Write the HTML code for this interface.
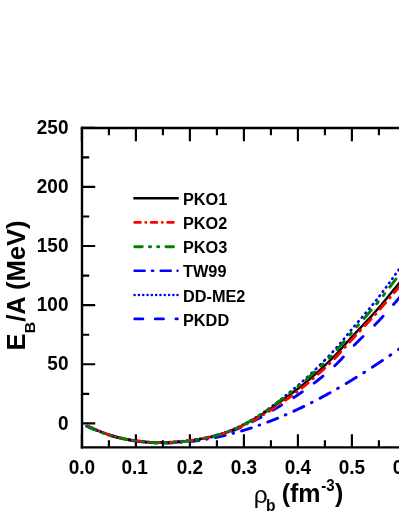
<!DOCTYPE html>
<html><head><meta charset="utf-8"><title>EOS</title>
<style>
html,body{margin:0;padding:0;background:#fff;}
body{width:399px;height:516px;overflow:hidden;font-family:"Liberation Sans",sans-serif;}
svg{display:block;}
text{font-family:"Liberation Sans",sans-serif;font-weight:bold;fill:#000;}
.tl text{font-size:19px;}
.lg text{font-size:16.3px;}
.c{fill:none;stroke-linecap:round;stroke-linejoin:round;stroke-width:2.9;}
.pko1{stroke:#000;stroke-width:2.4;stroke-linecap:butt;}
.pko2{stroke:#ff0000;}
.pko3{stroke:#008000;}
.tw99{stroke:#0000ff;}
.ddme2{stroke:#0000ff;stroke-width:2.6;}
.pkdd{stroke:#0000ff;}
</style></head><body>
<svg width="399" height="516" viewBox="0 0 399 516">
<defs><filter id="gs" x="0" y="0" width="399" height="516" filterUnits="userSpaceOnUse" color-interpolation-filters="sRGB"><feOffset dx="0" dy="0"/></filter></defs>
<rect width="399" height="516" fill="#fff"/>
<path d="M80.8,128.0 H405 M80.8,447.35 H405" fill="none" stroke="#000" stroke-width="2.3"/>
<path d="M82.0,126.85 V448.5" fill="none" stroke="#000" stroke-width="2.4"/>
<path d="M81.90,447.35 v-13.2 M81.90,128.0 v13.2 M108.90,447.35 v-7.2 M108.90,128.0 v7.2 M135.90,447.35 v-13.2 M135.90,128.0 v13.2 M162.90,447.35 v-7.2 M162.90,128.0 v7.2 M189.90,447.35 v-13.2 M189.90,128.0 v13.2 M216.90,447.35 v-7.2 M216.90,128.0 v7.2 M243.90,447.35 v-13.2 M243.90,128.0 v13.2 M270.90,447.35 v-7.2 M270.90,128.0 v7.2 M297.90,447.35 v-13.2 M297.90,128.0 v13.2 M324.90,447.35 v-7.2 M324.90,128.0 v7.2 M351.90,447.35 v-13.2 M351.90,128.0 v13.2 M378.90,447.35 v-7.2 M378.90,128.0 v7.2 M82.0,423.40 h13.2 M82.0,393.84 h7.2 M82.0,364.28 h13.2 M82.0,334.72 h7.2 M82.0,305.16 h13.2 M82.0,275.60 h7.2 M82.0,246.04 h13.2 M82.0,216.48 h7.2 M82.0,186.92 h13.2 M82.0,157.36 h7.2 M82.0,127.80 h13.2" fill="none" stroke="#000" stroke-width="2.15"/>
<g class="curves">
<path class="c tw99" d="M86.60,426.21 86.70,426.26 87.20,426.49 87.70,426.72 88.20,426.94 88.70,427.17 89.20,427.39 89.70,427.61 90.20,427.83 90.70,428.05 91.20,428.26 91.70,428.48 92.20,428.69 92.70,428.90 93.20,429.11 93.70,429.31 94.20,429.52 94.36,429.58M102.06,432.52 102.10,432.54 102.60,432.71 102.63,432.72M110.67,435.34 110.70,435.35 111.20,435.50 111.70,435.64 112.20,435.79 112.70,435.93 113.20,436.08 113.70,436.22 114.20,436.36 114.70,436.49 115.20,436.63 115.70,436.76 116.20,436.90 116.70,437.03 117.20,437.16 117.70,437.29 118.20,437.41 118.70,437.54 119.20,437.66 119.70,437.79 120.20,437.91 120.47,437.97M128.30,439.65 128.40,439.67 128.75,439.74M136.89,441.09 136.90,441.09 137.40,441.16 137.90,441.23 138.40,441.30 138.90,441.36 139.40,441.43 139.90,441.49 140.40,441.55 140.90,441.61 141.40,441.67 141.90,441.73 142.40,441.79 142.90,441.84 143.40,441.90 143.90,441.95 144.40,442.00 144.90,442.05 145.40,442.10 145.90,442.15 146.40,442.20 146.62,442.21M154.51,442.76 154.60,442.77 154.91,442.78M163.09,443.00 163.10,443.00 163.60,443.00 164.10,443.01 164.60,443.01 165.10,443.01 165.60,443.00 166.10,443.00 166.60,443.00 167.10,442.99 167.60,442.99 168.10,442.98 168.60,442.97 169.10,442.96 169.60,442.95 170.10,442.94 170.60,442.92 171.10,442.91 171.60,442.89 172.10,442.87 172.60,442.86 172.79,442.85M180.69,442.41 180.70,442.41 181.09,442.38M189.26,441.64 189.30,441.64 189.80,441.58 190.30,441.53 190.80,441.47 191.30,441.41 191.80,441.36 192.30,441.30 192.80,441.24 193.30,441.18 193.80,441.11 194.30,441.05 194.80,440.99 195.30,440.92 195.80,440.86 196.30,440.79 196.80,440.72 197.30,440.65 197.80,440.58 198.30,440.51 198.80,440.44 198.99,440.41M206.85,439.16 206.90,439.15 207.29,439.08M215.42,437.53 215.50,437.52 216.00,437.41 216.50,437.31 217.00,437.21 217.50,437.10 218.00,436.99 218.50,436.88 219.00,436.78 219.50,436.67 220.00,436.56 220.50,436.44 221.00,436.33 221.50,436.22 222.00,436.11 222.50,435.99 223.00,435.88 223.50,435.76 224.00,435.64 224.50,435.52 225.00,435.40 225.19,435.36M233.00,433.38 233.10,433.35 233.50,433.24M241.57,430.96 241.60,430.95 242.10,430.81 242.60,430.66 243.10,430.51 243.60,430.36 244.10,430.20 244.60,430.05 245.10,429.90 245.60,429.74 246.10,429.59 246.60,429.43 247.10,429.27 247.60,429.12 248.10,428.96 248.60,428.80 249.10,428.64 249.60,428.48 250.10,428.32 250.60,428.15 251.10,427.99 251.40,427.89M259.15,425.25 259.20,425.23 259.70,425.05 259.71,425.05M267.72,422.10 267.80,422.07 268.30,421.88 268.80,421.69 269.30,421.50 269.80,421.30 270.30,421.11 270.80,420.92 271.30,420.72 271.80,420.52 272.30,420.33 272.80,420.13 273.30,419.93 273.80,419.73 274.30,419.53 274.80,419.33 275.30,419.13 275.80,418.93 276.30,418.72 276.80,418.52 277.30,418.32 277.62,418.18M285.29,414.95 285.30,414.94 285.80,414.73 285.93,414.67M293.86,411.13 293.90,411.11 294.40,410.88 294.90,410.65 295.40,410.42 295.90,410.19 296.40,409.95 296.90,409.72 297.40,409.49 297.90,409.25 298.40,409.02 298.90,408.78 299.40,408.54 299.90,408.31 300.40,408.07 300.90,407.83 301.40,407.59 301.90,407.35 302.40,407.11 302.90,406.87 303.40,406.63 303.84,406.41M311.43,402.64 311.50,402.61 312.00,402.35 312.15,402.28M320.00,398.20 320.10,398.15 320.60,397.89 321.10,397.62 321.60,397.35 322.10,397.09 322.60,396.82 323.10,396.55 323.60,396.28 324.10,396.01 324.60,395.74 325.10,395.47 325.60,395.20 326.10,394.93 326.60,394.65 327.10,394.38 327.60,394.11 328.10,393.83 328.60,393.56 329.10,393.28 329.60,393.00 330.05,392.75M337.58,388.51 337.60,388.49 338.10,388.21 338.36,388.05M346.15,383.50 346.20,383.47 346.70,383.17 347.20,382.88 347.70,382.58 348.20,382.28 348.70,381.98 349.20,381.68 349.70,381.38 350.20,381.08 350.70,380.77 351.20,380.47 351.70,380.17 352.20,379.86 352.70,379.56 353.20,379.26 353.70,378.95 354.20,378.64 354.70,378.34 355.20,378.03 355.70,377.72 356.20,377.41 356.27,377.37M363.73,372.71 363.80,372.66 364.30,372.34 364.58,372.17M372.30,367.20 372.30,367.19 372.80,366.87 373.30,366.54 373.80,366.21 374.30,365.89 374.80,365.56 375.30,365.23 375.80,364.90 376.30,364.57 376.80,364.24 377.30,363.91 377.80,363.58 378.30,363.24 378.80,362.91 379.30,362.58 379.80,362.24 380.30,361.91 380.80,361.58 381.30,361.24 381.80,360.91 382.30,360.57 382.48,360.45M389.88,355.42 389.90,355.40 390.40,355.06 390.79,354.79M398.45,349.46 398.50,349.42 399.00,349.07 399.50,348.71 400.00,348.36 400.50,348.01 401.00,347.65 401.50,347.30 402.00,346.94 402.50,346.59 403.00,346.23 403.50,345.88 404.00,345.52 404.50,345.16 404.72,345.01"/>
<path class="c ddme2" d="M87.78,426.04 87.80,426.05 88.02,426.15M92.09,427.99 92.10,427.99 92.32,428.09M96.40,429.87 96.50,429.91 96.62,429.96M100.72,431.66 100.80,431.69 100.91,431.74M105.04,433.32 105.10,433.34 105.20,433.38M109.36,434.81 109.40,434.82 109.49,434.85M113.68,436.11 113.70,436.12 113.78,436.14M118.00,437.25 118.00,437.25 118.07,437.27M122.31,438.26 122.37,438.27M126.62,439.15 126.67,439.16M130.93,439.94 130.97,439.95M135.24,440.61 135.27,440.62M139.55,441.17 139.57,441.17M143.86,441.61 143.87,441.62M148.17,441.95 148.18,441.95M152.47,442.19 152.48,442.19M156.78,442.33 156.78,442.33M161.08,442.37 161.09,442.37M165.39,442.30 165.39,442.30M169.69,442.13 169.70,442.13M174.00,441.88 174.00,441.88 174.01,441.88M178.30,441.55 178.31,441.55M182.60,441.16 182.62,441.16M186.91,440.70 186.93,440.70M191.21,440.15 191.24,440.15M195.51,439.52 195.54,439.52M199.81,438.80 199.85,438.79M204.11,437.97 204.17,437.96M208.41,437.04 208.48,437.03M212.71,436.01 212.79,435.99M217.00,434.87 217.10,434.84 217.10,434.84M221.30,433.61 221.30,433.61 221.42,433.57M225.59,432.20 225.60,432.20 225.74,432.15M229.88,430.62 229.90,430.62 230.06,430.55M234.16,428.85 234.20,428.83 234.39,428.75M238.45,426.89 238.50,426.86 238.71,426.76M242.74,424.77 242.80,424.73 243.03,424.62M247.03,422.51 247.10,422.47 247.35,422.34M251.32,420.13 251.40,420.08 251.67,419.92M255.61,417.58 255.70,417.52 255.99,417.34M259.89,414.87 259.90,414.86 260.32,414.59M264.18,411.98 264.20,411.97 264.64,411.66M268.46,408.94 268.50,408.91 268.96,408.58M272.75,405.76 272.80,405.72 273.29,405.35M277.04,402.43 277.10,402.38 277.60,401.99 277.60,401.99M281.34,399.02 281.40,398.97 281.90,398.57 281.91,398.56M285.64,395.58 285.70,395.53 286.20,395.13 286.22,395.11M289.94,392.10 290.00,392.05 290.50,391.64 290.53,391.61M294.24,388.54 294.30,388.49 294.80,388.07 294.85,388.03M298.53,384.90 298.60,384.84 299.10,384.41 299.17,384.35M302.82,381.14 302.90,381.07 303.40,380.62 303.49,380.55M307.11,377.26 307.20,377.18 307.70,376.72 307.80,376.63M311.41,373.27 311.50,373.18 312.00,372.71 312.12,372.60M315.70,369.18 315.80,369.08 316.30,368.60 316.43,368.47M320.00,365.00 320.00,364.99 320.50,364.50 320.75,364.25M324.29,360.72 324.30,360.71 324.80,360.20 325.03,359.97M328.50,356.40 328.50,356.39 329.00,355.87 329.18,355.68M332.55,352.08 332.60,352.02 333.10,351.48 333.18,351.39M336.44,347.75 336.50,347.69 337.00,347.12 337.01,347.10M340.17,343.43 340.20,343.39 340.68,342.82M343.74,339.11 343.80,339.03 344.21,338.52M347.24,334.80 347.30,334.72 347.72,334.21M350.79,330.51 350.80,330.50 351.30,329.90 351.30,329.90M354.41,326.21 354.50,326.11 354.94,325.59M358.08,321.91 358.10,321.88 358.60,321.30 358.61,321.28M361.76,317.60 361.80,317.56 362.30,316.98M365.43,313.30 365.50,313.21 365.96,312.68M369.06,308.98 369.10,308.94 369.57,308.38M372.63,304.67 372.70,304.58 373.11,304.08M376.10,300.35 376.20,300.23 376.55,299.79M379.47,296.04 379.50,295.99 379.88,295.50M382.74,291.72 382.80,291.64 383.13,291.20M385.94,287.41 386.00,287.32 386.31,286.90M389.09,283.10 389.10,283.09 389.45,282.60M392.21,278.79 392.30,278.67 392.57,278.30M395.32,274.49 395.40,274.38 395.68,273.99M398.43,270.18 398.50,270.09 398.79,269.69M401.56,265.88 401.60,265.83 401.93,265.38M404.71,261.58 404.80,261.46 405.09,261.07"/>
<path class="c pkdd" d="M87.92,426.40 88.00,426.44 88.50,426.67 89.00,426.90 89.50,427.12 90.00,427.35 90.50,427.57 91.00,427.80 91.50,428.02 92.00,428.25 92.50,428.47 93.00,428.69 93.50,428.91 94.00,429.13 94.50,429.35 95.00,429.57 95.50,429.79 96.00,430.00 96.26,430.11M108.56,434.87 108.60,434.88 109.10,435.04 109.60,435.21 110.10,435.37 110.60,435.52 111.10,435.68 111.60,435.83 112.10,435.98 112.60,436.13 113.10,436.27 113.60,436.41 114.10,436.55 114.60,436.69 115.10,436.83 115.60,436.96 116.10,437.10 116.60,437.23 116.78,437.27M129.20,439.99 129.30,440.00 129.80,440.09 130.30,440.18 130.80,440.27 131.30,440.35 131.80,440.44 132.30,440.52 132.80,440.60 133.30,440.68 133.80,440.76 134.30,440.83 134.80,440.91 135.30,440.98 135.80,441.05 136.30,441.12 136.80,441.19 137.30,441.26 137.33,441.26M149.81,442.45 149.90,442.46 150.40,442.49 150.90,442.52 151.40,442.54 151.90,442.57 152.40,442.59 152.90,442.62 153.40,442.64 153.90,442.66 154.40,442.68 154.90,442.70 155.40,442.71 155.90,442.73 156.40,442.74 156.90,442.75 157.40,442.76 157.90,442.77 157.91,442.77M170.40,442.56 170.50,442.56 171.00,442.53 171.50,442.51 172.00,442.48 172.50,442.45 173.00,442.42 173.50,442.39 174.00,442.36 174.50,442.33 175.00,442.29 175.50,442.26 176.00,442.22 176.50,442.19 177.00,442.15 177.50,442.11 178.00,442.08 178.50,442.04 178.50,442.04M190.98,440.74 191.00,440.74 191.50,440.67 192.00,440.60 192.50,440.54 193.00,440.47 193.50,440.40 194.00,440.32 194.50,440.25 195.00,440.18 195.50,440.10 196.00,440.02 196.50,439.94 197.00,439.87 197.50,439.78 198.00,439.70 198.50,439.62 199.00,439.53 199.11,439.52M211.55,437.03 211.60,437.02 212.10,436.91 212.60,436.79 213.10,436.67 213.60,436.56 214.10,436.44 214.60,436.31 215.10,436.19 215.60,436.07 216.10,435.94 216.60,435.82 217.10,435.69 217.60,435.56 218.10,435.43 218.60,435.30 219.10,435.17 219.60,435.03 219.73,435.00M232.08,431.05 232.10,431.04 232.60,430.85 233.10,430.66 233.60,430.46 234.10,430.26 234.60,430.06 235.10,429.86 235.60,429.66 236.10,429.45 236.60,429.24 237.10,429.03 237.60,428.82 238.10,428.60 238.60,428.38 239.10,428.17 239.60,427.95 240.10,427.72 240.40,427.59M252.60,421.64 252.70,421.59 253.20,421.33 253.70,421.07 254.20,420.81 254.70,420.55 255.20,420.29 255.70,420.03 256.20,419.77 256.70,419.51 257.20,419.24 257.70,418.98 258.20,418.71 258.70,418.44 259.20,418.18 259.70,417.91 260.20,417.64 260.70,417.36 261.04,417.18M273.14,410.12 273.20,410.08 273.70,409.78 274.20,409.48 274.70,409.18 275.20,408.88 275.70,408.57 276.20,408.27 276.70,407.97 277.20,407.67 277.70,407.37 278.20,407.07 278.70,406.77 279.20,406.47 279.70,406.17 280.20,405.87 280.70,405.57 281.20,405.27 281.65,405.00M293.71,397.62 293.80,397.56 294.30,397.24 294.80,396.91 295.30,396.58 295.80,396.25 296.30,395.92 296.80,395.59 297.30,395.25 297.80,394.92 298.30,394.58 298.80,394.24 299.30,393.90 299.80,393.56 300.30,393.22 300.80,392.87 301.30,392.53 301.80,392.18 302.30,391.83M314.23,383.07 314.30,383.02 314.80,382.63 315.30,382.25 315.80,381.86 316.30,381.47 316.80,381.08 317.30,380.69 317.80,380.29 318.30,379.90 318.80,379.50 319.30,379.10 319.80,378.70 320.30,378.30 320.80,377.90 321.30,377.50 321.80,377.09 322.30,376.69 322.80,376.28 322.96,376.15M334.72,365.79 334.80,365.71 335.30,365.23 335.80,364.75 336.30,364.26 336.80,363.77 337.30,363.28 337.80,362.78 338.30,362.28 338.80,361.77 339.30,361.26 339.80,360.74 340.30,360.23 340.80,359.70 341.30,359.17 341.80,358.64 342.30,358.10 342.80,357.56 343.30,357.01 343.32,356.99M354.18,345.28 354.20,345.25 354.70,344.74 355.20,344.22 355.70,343.71 356.20,343.21 356.70,342.70 357.20,342.20 357.70,341.70 358.20,341.20 358.70,340.70 359.20,340.21 359.70,339.72 360.20,339.23 360.70,338.74 361.20,338.25 361.70,337.77 362.20,337.28 362.70,336.80 363.02,336.48M374.68,325.11 374.70,325.09 375.20,324.58 375.70,324.07 376.20,323.56 376.70,323.04 377.20,322.53 377.70,322.00 378.20,321.48 378.70,320.95 379.20,320.41 379.70,319.88 380.20,319.34 380.70,318.80 381.20,318.26 381.70,317.71 382.20,317.16 382.70,316.62 383.06,316.22M393.51,304.46 393.60,304.35 394.10,303.78 394.60,303.21 395.10,302.64 395.60,302.07 396.10,301.50 396.60,300.93 397.10,300.36 397.60,299.79 398.10,299.22 398.60,298.65 399.10,298.09 399.60,297.52 400.10,296.95 400.60,296.39 401.10,295.82 401.26,295.64"/>
<path class="c pko1" d="M86.6,425.70 L87.6,426.16 L88.6,426.61 L89.6,427.07 L90.6,427.52 L91.6,427.97 L92.6,428.41 L93.6,428.86 L94.6,429.29 L95.6,429.73 L96.6,430.16 L97.6,430.58 L98.6,431.00 L99.6,431.41 L100.6,431.82 L101.6,432.21 L102.6,432.60 L103.6,432.99 L104.6,433.36 L105.6,433.73 L106.6,434.08 L107.6,434.43 L108.6,434.77 L109.6,435.09 L110.6,435.41 L111.6,435.72 L112.6,436.01 L113.6,436.30 L114.6,436.58 L115.6,436.85 L116.6,437.11 L117.6,437.36 L118.6,437.61 L119.6,437.85 L120.6,438.08 L121.6,438.31 L122.6,438.53 L123.6,438.75 L124.6,438.96 L125.6,439.16 L126.6,439.36 L127.6,439.56 L128.6,439.74 L129.6,439.93 L130.6,440.10 L131.6,440.27 L132.6,440.43 L133.6,440.59 L134.6,440.74 L135.6,440.89 L136.6,441.02 L137.6,441.16 L138.6,441.28 L139.6,441.40 L140.6,441.51 L141.6,441.62 L142.6,441.72 L143.6,441.82 L144.6,441.91 L145.6,441.99 L146.6,442.07 L147.6,442.15 L148.6,442.21 L149.6,442.28 L150.6,442.33 L151.6,442.39 L152.6,442.43 L153.6,442.48 L154.6,442.51 L155.6,442.54 L156.6,442.57 L157.6,442.59 L158.6,442.60 L159.6,442.61 L160.6,442.62 L161.6,442.61 L162.6,442.60 L163.6,442.59 L164.6,442.57 L165.6,442.55 L166.6,442.52 L167.6,442.48 L168.6,442.44 L169.6,442.39 L170.6,442.34 L171.6,442.29 L172.6,442.23 L173.6,442.17 L174.6,442.10 L175.6,442.03 L176.6,441.96 L177.6,441.88 L178.6,441.80 L179.6,441.71 L180.6,441.63 L181.6,441.53 L182.6,441.44 L183.6,441.34 L184.6,441.23 L185.6,441.13 L186.6,441.01 L187.6,440.90 L188.6,440.78 L189.6,440.65 L190.6,440.52 L191.6,440.39 L192.6,440.25 L193.6,440.10 L194.6,439.95 L195.6,439.80 L196.6,439.64 L197.6,439.48 L198.6,439.31 L199.6,439.13 L200.6,438.95 L201.6,438.77 L202.6,438.58 L203.6,438.38 L204.6,438.18 L205.6,437.97 L206.6,437.76 L207.6,437.54 L208.6,437.32 L209.6,437.09 L210.6,436.86 L211.6,436.62 L212.6,436.37 L213.6,436.12 L214.6,435.86 L215.6,435.60 L216.6,435.33 L217.6,435.05 L218.6,434.77 L219.6,434.48 L220.6,434.19 L221.6,433.89 L222.6,433.58 L223.6,433.26 L224.6,432.93 L225.6,432.60 L226.6,432.25 L227.6,431.89 L228.6,431.53 L229.6,431.15 L230.6,430.77 L231.6,430.37 L232.6,429.96 L233.6,429.54 L234.6,429.11 L235.6,428.67 L236.6,428.23 L237.6,427.77 L238.6,427.30 L239.6,426.83 L240.6,426.35 L241.6,425.86 L242.6,425.36 L243.6,424.86 L244.6,424.35 L245.6,423.83 L246.6,423.31 L247.6,422.77 L248.6,422.24 L249.6,421.69 L250.6,421.14 L251.6,420.59 L252.6,420.02 L253.6,419.45 L254.6,418.87 L255.6,418.28 L256.6,417.69 L257.6,417.09 L258.6,416.48 L259.6,415.87 L260.6,415.24 L261.6,414.61 L262.6,413.97 L263.6,413.33 L264.6,412.67 L265.6,412.01 L266.6,411.34 L267.6,410.66 L268.6,409.98 L269.6,409.29 L270.6,408.60 L271.6,407.90 L272.6,407.20 L273.6,406.50 L274.6,405.79 L275.6,405.08 L276.6,404.37 L277.6,403.65 L278.6,402.94 L279.6,402.23 L280.6,401.51 L281.6,400.80 L282.6,400.09 L283.6,399.38 L284.6,398.66 L285.6,397.95 L286.6,397.23 L287.6,396.52 L288.6,395.79 L289.6,395.06 L290.6,394.33 L291.6,393.59 L292.6,392.84 L293.6,392.08 L294.6,391.32 L295.6,390.56 L296.6,389.78 L297.6,389.00 L298.6,388.22 L299.6,387.42 L300.6,386.62 L301.6,385.81 L302.6,385.00 L303.6,384.18 L304.6,383.35 L305.6,382.51 L306.6,381.67 L307.6,380.82 L308.6,379.97 L309.6,379.11 L310.6,378.25 L311.6,377.38 L312.6,376.50 L313.6,375.62 L314.6,374.74 L315.6,373.85 L316.6,372.96 L317.6,372.06 L318.6,371.15 L319.6,370.25 L320.6,369.33 L321.6,368.42 L322.6,367.50 L323.6,366.57 L324.6,365.64 L325.6,364.70 L326.6,363.75 L327.6,362.79 L328.6,361.83 L329.6,360.86 L330.6,359.88 L331.6,358.89 L332.6,357.89 L333.6,356.88 L334.6,355.86 L335.6,354.83 L336.6,353.79 L337.6,352.74 L338.6,351.67 L339.6,350.59 L340.6,349.50 L341.6,348.39 L342.6,347.27 L343.6,346.14 L344.6,345.00 L345.6,343.87 L346.6,342.74 L347.6,341.61 L348.6,340.50 L349.6,339.40 L350.6,338.30 L351.6,337.21 L352.6,336.12 L353.6,335.04 L354.6,333.97 L355.6,332.90 L356.6,331.84 L357.6,330.77 L358.6,329.71 L359.6,328.66 L360.6,327.60 L361.6,326.54 L362.6,325.49 L363.6,324.43 L364.6,323.37 L365.6,322.31 L366.6,321.24 L367.6,320.18 L368.6,319.10 L369.6,318.02 L370.6,316.94 L371.6,315.85 L372.6,314.75 L373.6,313.65 L374.6,312.54 L375.6,311.42 L376.6,310.28 L377.6,309.14 L378.6,307.99 L379.6,306.83 L380.6,305.66 L381.6,304.47 L382.6,303.29 L383.6,302.09 L384.6,300.89 L385.6,299.68 L386.6,298.46 L387.6,297.25 L388.6,296.02 L389.6,294.79 L390.6,293.56 L391.6,292.33 L392.6,291.10 L393.6,289.86 L394.6,288.63 L395.6,287.39 L396.6,286.16 L397.6,284.92 L398.6,283.69 L399.6,282.46 L400.6,281.24 L401.6,280.02 L402.6,278.80 L403.6,277.59 L404.6,276.38 L405.6,275.18"/>
<path class="c pko2" d="M87.92,426.10 88.00,426.14 88.50,426.37 89.00,426.60 89.50,426.82 90.00,427.05 90.50,427.27 91.00,427.50 91.50,427.72 92.00,427.95 92.50,428.17 93.00,428.39 93.50,428.61 93.81,428.75M99.10,431.01 99.10,431.01 99.10,431.01M104.42,433.10 104.50,433.13 105.00,433.32 105.50,433.50 106.00,433.68 106.50,433.86 107.00,434.03 107.50,434.21 108.00,434.38 108.50,434.55 109.00,434.71 109.50,434.87 110.00,435.03 110.22,435.10M115.56,436.65 115.57,436.66M120.94,437.98 121.00,438.00 121.50,438.11 122.00,438.22 122.50,438.33 123.00,438.44 123.50,438.55 124.00,438.66 124.50,438.77 125.00,438.87 125.50,438.97 126.00,439.07 126.50,439.17 126.65,439.20M132.03,440.18 132.04,440.18M137.43,440.98 137.50,440.99 138.00,441.05 138.50,441.12 139.00,441.18 139.50,441.24 140.00,441.30 140.50,441.35 141.00,441.41 141.50,441.46 142.00,441.52 142.50,441.57 143.00,441.62 143.09,441.63M148.49,442.07 148.50,442.07 148.50,442.07M153.91,442.36 154.00,442.37 154.50,442.38 155.00,442.40 155.50,442.42 156.00,442.43 156.50,442.45 157.00,442.46 157.50,442.47 158.00,442.48 158.50,442.49 159.00,442.49 159.50,442.50 159.55,442.50M164.96,442.46 164.97,442.46M170.38,442.27 170.40,442.27 170.90,442.24 171.40,442.21 171.90,442.19 172.40,442.16 172.90,442.13 173.40,442.10 173.90,442.07 174.40,442.04 174.90,442.00 175.40,441.97 175.90,441.93 176.02,441.93M181.43,441.49 181.44,441.49M186.84,440.94 186.90,440.94 187.40,440.88 187.90,440.82 188.40,440.76 188.90,440.70 189.40,440.64 189.90,440.58 190.40,440.52 190.90,440.45 191.40,440.39 191.90,440.32 192.40,440.25 192.50,440.24M197.89,439.42 197.90,439.42 197.90,439.42M203.29,438.46 203.30,438.46 203.80,438.36 204.30,438.26 204.80,438.16 205.30,438.06 205.80,437.96 206.30,437.86 206.80,437.76 207.30,437.65 207.80,437.55 208.30,437.44 208.80,437.33 208.98,437.29M214.36,436.04 214.37,436.04M219.73,434.64 219.80,434.62 220.30,434.48 220.80,434.34 221.30,434.20 221.80,434.05 222.30,433.90 222.80,433.76 223.30,433.61 223.80,433.45 224.30,433.30 224.80,433.14 225.30,432.98 225.49,432.92M230.83,431.07 230.84,431.06M236.13,428.93 236.20,428.90 236.70,428.69 237.20,428.47 237.70,428.25 238.20,428.03 238.70,427.81 239.20,427.58 239.70,427.35 240.20,427.12 240.70,426.89 241.20,426.66 241.70,426.42 242.02,426.27M247.27,423.69 247.30,423.67 247.33,423.66M252.54,420.92 252.60,420.89 253.10,420.62 253.60,420.35 254.10,420.07 254.60,419.80 255.10,419.52 255.60,419.25 256.10,418.97 256.60,418.69 257.10,418.41 257.60,418.12 258.10,417.84 258.54,417.59M263.68,414.55 263.70,414.54 263.85,414.45M268.95,411.26 269.00,411.22 269.50,410.90 270.00,410.58 270.50,410.25 271.00,409.93 271.50,409.60 272.00,409.27 272.50,408.94 273.00,408.61 273.50,408.28 274.00,407.95 274.50,407.62 275.00,407.28 275.06,407.24M280.11,403.84 280.20,403.77 280.35,403.67M285.39,400.23 285.40,400.22 285.90,399.88 286.40,399.53 286.90,399.18 287.40,398.83 287.90,398.48 288.40,398.13 288.90,397.77 289.40,397.41 289.90,397.06 290.40,396.69 290.90,396.33 291.40,395.97 291.56,395.85M296.53,392.15 296.60,392.09 296.87,391.89M301.79,388.04 301.80,388.03 302.30,387.63 302.80,387.23 303.30,386.82 303.80,386.42 304.30,386.01 304.80,385.60 305.30,385.19 305.80,384.77 306.30,384.36 306.80,383.94 307.30,383.53 307.80,383.11 308.09,382.87M312.94,378.72 313.00,378.67 313.39,378.33M318.21,374.07 318.30,373.99 318.80,373.54 319.30,373.09 319.80,372.64 320.30,372.19 320.80,371.74 321.30,371.29 321.80,370.83 322.30,370.37 322.80,369.92 323.30,369.46 323.80,369.00 324.30,368.53 324.60,368.25M329.35,363.76 329.40,363.71 329.90,363.22 329.91,363.21M334.60,358.54 334.70,358.44 335.20,357.93 335.70,357.41 336.20,356.89 336.70,356.37 337.20,355.85 337.70,355.32 338.20,354.79 338.70,354.25 339.20,353.72 339.70,353.17 340.20,352.63 340.68,352.11M344.95,347.30 345.00,347.25 345.37,346.84M349.65,342.03 349.70,341.98 350.20,341.43 350.70,340.88 351.20,340.33 351.70,339.79 352.20,339.24 352.70,338.70 353.20,338.16 353.70,337.62 354.20,337.08 354.70,336.54 355.20,336.00 355.55,335.63M360.01,330.87 360.10,330.78 360.52,330.34M364.99,325.58 365.00,325.57 365.50,325.04 366.00,324.50 366.50,323.97 367.00,323.43 367.50,322.90 368.00,322.36 368.50,321.82 369.00,321.28 369.50,320.74 370.00,320.20 370.50,319.66 370.94,319.17M375.28,314.38 375.30,314.35 375.71,313.90M379.98,309.09 380.00,309.06 380.50,308.49 381.00,307.92 381.50,307.36 382.00,306.79 382.50,306.22 383.00,305.65 383.50,305.07 384.00,304.50 384.50,303.93 385.00,303.36 385.50,302.78 385.54,302.73M389.73,297.89 389.80,297.81 390.11,297.45M394.26,292.60 394.30,292.55 394.80,291.96 395.30,291.38 395.80,290.79 396.30,290.20 396.80,289.61 397.30,289.02 397.80,288.42 398.30,287.83 398.80,287.24 399.30,286.64 399.61,286.28M403.72,281.42 403.80,281.33 404.10,280.98"/>
<path class="c pko3" d="M87.92,426.50 88.00,426.54 88.50,426.77 89.00,426.99 89.50,427.22 90.00,427.45 90.50,427.67 91.00,427.90 91.50,428.12 92.00,428.35 92.50,428.57 93.00,428.79 93.50,429.01 94.00,429.23 94.50,429.45 95.00,429.67 95.50,429.88 95.68,429.96M102.60,432.81 102.70,432.84 103.20,433.04 103.70,433.23 104.04,433.35M110.82,435.68 110.90,435.70 111.40,435.86 111.90,436.01 112.19,436.09M119.24,437.96 119.30,437.98 119.80,438.10 120.30,438.21 120.80,438.33 121.30,438.44 121.80,438.56 122.30,438.67 122.80,438.78 123.30,438.88 123.80,438.99 124.30,439.10 124.80,439.20 125.30,439.30 125.80,439.40 126.30,439.50 126.80,439.60 126.82,439.61M133.92,440.84 134.00,440.85 134.50,440.93 135.00,441.00 135.19,441.03M142.11,441.87 142.20,441.88 142.70,441.93 143.20,441.98 143.37,442.00M150.51,442.53 150.60,442.53 151.10,442.56 151.60,442.59 152.10,442.61 152.60,442.63 153.10,442.66 153.60,442.68 154.10,442.69 154.60,442.71 155.10,442.73 155.60,442.74 156.10,442.76 156.60,442.77 157.10,442.78 157.60,442.79 158.02,442.80M165.16,442.76 165.20,442.76 165.70,442.74 166.20,442.73 166.41,442.72M173.35,442.38 173.40,442.38 173.90,442.35 174.40,442.31 174.60,442.30M181.73,441.72 181.80,441.71 182.30,441.67 182.80,441.62 183.30,441.57 183.80,441.52 184.30,441.47 184.80,441.41 185.30,441.36 185.80,441.30 186.30,441.25 186.80,441.19 187.30,441.13 187.80,441.07 188.30,441.01 188.80,440.95 189.26,440.89M196.38,439.88 196.40,439.87 196.90,439.79 197.40,439.71 197.66,439.67M204.55,438.39 204.60,438.38 205.10,438.28 205.60,438.17 205.86,438.12M212.93,436.49 213.00,436.47 213.50,436.34 214.00,436.22 214.50,436.09 215.00,435.96 215.50,435.82 216.00,435.69 216.50,435.55 217.00,435.42 217.50,435.28 218.00,435.14 218.50,435.00 219.00,434.86 219.50,434.71 220.00,434.57 220.50,434.42 220.54,434.40M227.54,432.07 227.60,432.05 228.10,431.86 228.60,431.67 228.97,431.53M235.68,428.67 235.70,428.66 236.20,428.42 236.70,428.19 237.20,427.95 237.20,427.95M244.03,424.47 244.10,424.43 244.60,424.17 245.10,423.89 245.60,423.62 246.10,423.35 246.60,423.07 247.10,422.79 247.60,422.52 248.10,422.23 248.60,421.95 249.10,421.67 249.60,421.38 250.10,421.09 250.60,420.80 251.10,420.51 251.60,420.22 251.91,420.03M258.63,415.90 258.70,415.86 259.20,415.54 259.70,415.21 260.20,414.89 260.34,414.80M266.78,410.41 266.80,410.40 267.30,410.04 267.80,409.68 268.30,409.33 268.56,409.14M275.14,404.28 275.20,404.24 275.70,403.86 276.20,403.48 276.70,403.11 277.20,402.73 277.70,402.35 278.20,401.97 278.70,401.60 279.20,401.22 279.70,400.84 280.20,400.46 280.70,400.08 281.20,399.70 281.70,399.33 282.20,398.95 282.70,398.57 283.20,398.19 283.23,398.17M289.78,393.17 289.80,393.16 290.30,392.77 290.80,392.38 291.30,391.99 291.64,391.72M297.94,386.64 298.00,386.59 298.50,386.18 299.00,385.76 299.50,385.34 299.86,385.04M306.30,379.51 306.40,379.42 306.90,378.98 307.40,378.54 307.90,378.09 308.40,377.65 308.90,377.20 309.40,376.75 309.90,376.30 310.40,375.85 310.90,375.40 311.40,374.95 311.90,374.49 312.40,374.04 312.90,373.58 313.40,373.12 313.90,372.66 314.40,372.20 314.56,372.06M320.92,366.09 321.00,366.01 321.50,365.53 322.00,365.05 322.50,364.57 322.97,364.12M329.07,358.09 329.10,358.06 329.60,357.55 330.10,357.04 330.60,356.53 331.09,356.02M337.06,349.66 337.10,349.61 337.60,349.06 338.10,348.50 338.60,347.94 339.10,347.38 339.60,346.81 340.10,346.24 340.60,345.66 341.10,345.09 341.60,344.50 342.10,343.92 342.60,343.33 343.10,342.73 343.60,342.14 344.10,341.54 344.19,341.43M349.63,334.97 349.70,334.89 350.20,334.31 350.70,333.73 351.20,333.15 351.30,333.03M356.73,326.80 356.80,326.72 357.30,326.15 357.80,325.58 358.30,325.01 358.46,324.83M364.11,318.41 364.20,318.31 364.70,317.74 365.20,317.17 365.70,316.60 366.20,316.03 366.70,315.46 367.20,314.88 367.70,314.31 368.20,313.73 368.70,313.16 369.20,312.58 369.70,312.00 370.20,311.42 370.70,310.84 371.20,310.25 371.25,310.19M376.68,303.73 376.70,303.71 377.20,303.10 377.70,302.49 378.20,301.88 378.24,301.83M383.27,295.52 383.30,295.48 383.80,294.84 384.30,294.20 384.72,293.66M389.76,287.12 389.80,287.06 390.30,286.41 390.80,285.75 391.30,285.10 391.80,284.44 392.30,283.78 392.80,283.13 393.30,282.47 393.80,281.81 394.30,281.16 394.80,280.50 395.30,279.84 395.80,279.19 395.93,279.01M400.95,272.47 401.00,272.40 401.50,271.75 402.00,271.11 402.38,270.62"/>
</g>
<g filter="url(#gs)">
<g class="tl"><text transform="translate(81.9,474.3) scale(1,1.1)" text-anchor="middle">0.0</text><text transform="translate(134.6,474.3) scale(1,1.1)" text-anchor="middle">0.1</text><text transform="translate(189.9,474.3) scale(1,1.1)" text-anchor="middle">0.2</text><text transform="translate(243.9,474.3) scale(1,1.1)" text-anchor="middle">0.3</text><text transform="translate(297.9,474.3) scale(1,1.1)" text-anchor="middle">0.4</text><text transform="translate(351.9,474.3) scale(1,1.1)" text-anchor="middle">0.5</text><text transform="translate(405.9,474.3) scale(1,1.1)" text-anchor="middle">0.6</text><text transform="translate(68.5,429.5) scale(1,1.1)" text-anchor="end">0</text><text transform="translate(68.5,370.4) scale(1,1.1)" text-anchor="end">50</text><text transform="translate(68.5,311.3) scale(1,1.1)" text-anchor="end">100</text><text transform="translate(68.5,252.1) scale(1,1.1)" text-anchor="end">150</text><text transform="translate(68.5,193.0) scale(1,1.1)" text-anchor="end">200</text><text transform="translate(68.5,133.9) scale(1,1.1)" text-anchor="end">250</text></g>
<g class="lgl"><path class="c pko1" d="M133.3,198.2 H178.8"/><path class="c pko2" d="M134.75,222.40 134.80,222.40 135.30,222.40 135.80,222.40 136.30,222.40 136.80,222.40 137.30,222.40 137.80,222.40 138.30,222.40 138.80,222.40 139.30,222.40 139.80,222.40 140.30,222.40 140.39,222.40M145.80,222.40 145.80,222.40 145.81,222.40M151.22,222.40 151.30,222.40 151.80,222.40 152.30,222.40 152.80,222.40 153.30,222.40 153.80,222.40 154.30,222.40 154.80,222.40 155.30,222.40 155.80,222.40 156.30,222.40 156.80,222.40 156.85,222.40M162.26,222.40 162.27,222.40M167.68,222.40 167.70,222.40 168.20,222.40 168.70,222.40 169.20,222.40 169.70,222.40 170.20,222.40 170.70,222.40 171.20,222.40 171.70,222.40 172.20,222.40 172.70,222.40 173.20,222.40 173.32,222.40"/><path class="c pko3" d="M134.75,246.70 134.80,246.70 135.30,246.70 135.80,246.70 136.30,246.70 136.80,246.70 137.30,246.70 137.80,246.70 138.30,246.70 138.80,246.70 139.30,246.70 139.80,246.70 140.30,246.70 140.80,246.70 141.30,246.70 141.80,246.70 142.26,246.70M149.40,246.70 149.50,246.70 150.00,246.70 150.50,246.70 150.65,246.70M157.59,246.70 157.60,246.70 158.10,246.70 158.60,246.70 158.84,246.70M165.98,246.70 166.00,246.70 166.50,246.70 167.00,246.70 167.50,246.70 168.00,246.70 168.50,246.70 169.00,246.70 169.50,246.70 170.00,246.70 170.50,246.70 171.00,246.70 171.50,246.70 172.00,246.70 172.50,246.70 173.00,246.70 173.49,246.70"/><path class="c tw99" style="stroke-width:2.5" d="M134.55,270.70 134.60,270.70 135.10,270.70 135.60,270.70 136.10,270.70 136.60,270.70 137.10,270.70 137.60,270.70 138.10,270.70 138.60,270.70 139.10,270.70 139.60,270.70 140.10,270.70 140.60,270.70 141.10,270.70 141.60,270.70 142.10,270.70 142.60,270.70 143.10,270.70 143.60,270.70 144.10,270.70 144.60,270.70 144.65,270.70M151.95,270.70 152.00,270.70 152.50,270.70 153.00,270.70 153.15,270.70M160.73,270.70 160.80,270.70 161.30,270.70 161.80,270.70 162.30,270.70 162.80,270.70 163.30,270.70 163.80,270.70 164.30,270.70 164.80,270.70 165.30,270.70 165.80,270.70 166.30,270.70 166.80,270.70 167.30,270.70 167.80,270.70 168.30,270.70 168.80,270.70 169.30,270.70 169.80,270.70 170.30,270.70 170.80,270.70 170.83,270.70M177.54,270.70 177.55,270.70"/><path class="c ddme2" d="M134.60,295.00 134.61,295.00M138.91,295.00 138.92,295.00M143.22,295.00 143.23,295.00M147.53,295.00 147.54,295.00M151.84,295.00 151.85,295.00M156.15,295.00 156.16,295.00M160.46,295.00 160.47,295.00M164.77,295.00 164.78,295.00M169.08,295.00 169.09,295.00M173.39,295.00 173.40,295.00M177.49,295.00 177.50,295.00 177.50,295.00"/><path class="c pkdd" d="M134.75,318.90 134.80,318.90 135.30,318.90 135.80,318.90 136.30,318.90 136.80,318.90 137.30,318.90 137.80,318.90 138.30,318.90 138.80,318.90 139.30,318.90 139.80,318.90 140.30,318.90 140.80,318.90 141.30,318.90 141.80,318.90 142.30,318.90 142.80,318.90 142.84,318.90M155.34,318.90 155.40,318.90 155.90,318.90 156.40,318.90 156.90,318.90 157.40,318.90 157.90,318.90 158.40,318.90 158.90,318.90 159.40,318.90 159.90,318.90 160.40,318.90 160.90,318.90 161.40,318.90 161.90,318.90 162.40,318.90 162.90,318.90 163.40,318.90 163.43,318.90M175.93,318.90 176.00,318.90 176.50,318.90 177.00,318.90 177.35,318.90"/></g>
<g class="lg"><text transform="translate(183,204.9) scale(1,1.03)">PKO1</text><text transform="translate(183,229.1) scale(1,1.03)">PKO2</text><text transform="translate(183,253.4) scale(1,1.03)">PKO3</text><text transform="translate(183,277.4) scale(1,1.03)">TW99</text><text transform="translate(183,301.7) scale(1,1.03)">DD-ME2</text><text transform="translate(183,325.6) scale(1,1.03)">PKDD</text></g>
<text transform="translate(24.9,350.4) rotate(-90) scale(1.025,1)" font-size="25">E<tspan font-size="15.5" dy="10.4">B</tspan><tspan dy="-10.4">/A (MeV)</tspan></text>
<g font-size="25">
<text x="253.8" y="502.6" style="font-weight:normal" font-size="24.5">ρ</text>
<text x="266.0" y="511.2" font-size="15.6">b</text>
<text transform="translate(281.7,501.6) scale(1,1.03)">(fm</text>
<text transform="translate(321.2,490.7) scale(1,1.1)" font-size="15">-3</text>
<text transform="translate(335.0,501.6) scale(1,1.03)">)</text>
</g>
</g>
</svg>
</body></html>
